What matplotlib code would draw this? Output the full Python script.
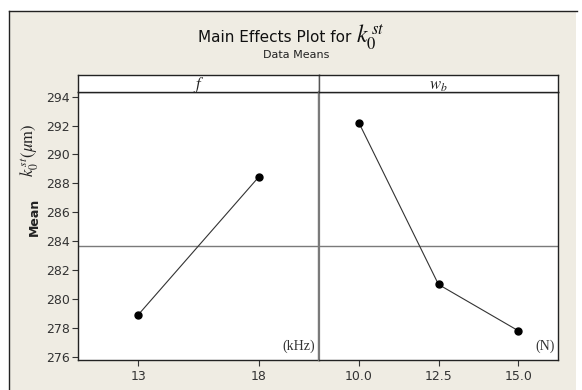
import matplotlib
matplotlib.use("Agg")
import matplotlib.pyplot as plt
from matplotlib.patches import Rectangle
from matplotlib.lines import Line2D

plt.rcParams["mathtext.fontset"] = "stix"
plt.rcParams["font.family"] = "DejaVu Sans"

# main effects: level means per factor
f_levels = ["13", "18"]
f_means = [278.9, 288.44]
wb_levels = ["10.0", "12.5", "15.0"]
wb_means = [292.2, 281.0, 277.8]
grand_mean = 283.67
y_ticks = [276, 278, 280, 282, 284, 286, 288, 290, 292, 294]

W, H = 582, 390
BG = "#efece3"

fig = plt.figure(figsize=(W / 100, H / 100), dpi=100)
fig.patch.set_facecolor("white")

# beige frame with darker top/left edge
fig.patches.append(Rectangle((9 / W, 0), (576 - 9) / W, 1 - 11 / H,
                             transform=fig.transFigure, facecolor=BG,
                             edgecolor="none", zorder=-5))
fig.lines.append(Line2D([9 / W, 9 / W], [0, 1 - 11 / H], transform=fig.transFigure,
                        color="#222222", lw=1.0, zorder=-4))
fig.lines.append(Line2D([9 / W, 577 / W], [1 - 11 / H, 1 - 11 / H],
                        transform=fig.transFigure, color="#222222", lw=1.0, zorder=-4))


def fx(px):
    return px / W


def fy(py):
    return 1 - py / H


left, mid, right = 78, 319, 558
top_strip, top_data, bottom = 75.3, 92.3, 360
ylim = (275.77, 294.30)

panels = [
    (left, mid, f_levels, f_means, "$f$", "(kHz)"),
    (mid, right, wb_levels, wb_means, "$w_b$", "(N)"),
]

for i, (x0, x1, levels, means, name, unit) in enumerate(panels):
    ax = fig.add_axes([fx(x0), fy(bottom), fx(x1) - fx(x0), fy(top_data) - fy(bottom)])
    ax.set_facecolor("white")
    pos = list(range(1, len(levels) + 1))
    ax.axhline(grand_mean, color="#7a7a7a", lw=1.0, zorder=1)
    ax.plot(pos, means, color="#333333", lw=0.8, marker="o", ms=5,
            markerfacecolor="black", markeredgecolor="black", zorder=3)
    ax.set_xlim(0.5, len(levels) + 0.5)
    ax.set_ylim(*ylim)
    ax.set_xticks(pos)
    ax.set_xticklabels(levels)
    ax.tick_params(axis="x", length=4, width=0.8, color="#333333", labelsize=9,
                   labelcolor="#333333", pad=3)
    for s in ax.spines.values():
        s.set_color("#222222")
        s.set_linewidth(1.0)
    if i == 0:
        ax.set_yticks(y_ticks)
        ax.tick_params(axis="y", length=4, width=0.8, color="#333333", labelsize=9,
                       labelcolor="#333333", pad=2)
        ax.spines["right"].set_color("#7a7a7a")
        ax.spines["right"].set_linewidth(1.6)
    else:
        ax.set_yticks([])
        ax.spines["left"].set_color("#7a7a7a")
        ax.spines["left"].set_linewidth(1.6)
    ax.text(0.985, 0.025, unit, transform=ax.transAxes, ha="right", va="bottom",
            fontsize=10, family="Liberation Serif", color="#333333")

    strip = fig.add_axes([fx(x0), fy(top_data), fx(x1) - fx(x0), fy(top_strip) - fy(top_data)])
    strip.set_facecolor("white")
    strip.set_xticks([])
    strip.set_yticks([])
    for s in strip.spines.values():
        s.set_color("#222222")
        s.set_linewidth(1.0)
    if i == 0:
        strip.spines["right"].set_color("#555555")
    else:
        strip.spines["left"].set_color("#555555")
    strip.text(0.5, 0.45, name, transform=strip.transAxes, ha="center", va="center",
               fontsize=12, color="#222222")

fig.text(fx(351), fy(38), "Main Effects Plot for", ha="right",
         va="center", fontsize=11, color="#111111")
fig.text(fx(356), fy(37), r"$k_{0}^{\,st}$", ha="left", va="center",
         fontsize=17, color="#111111")
fig.text(fx(296), fy(55), "Data Means", ha="center", va="center", fontsize=8,
         color="#222222")

fig.text(fx(34), fy(217), "Mean", rotation=90, ha="center", va="center",
         fontsize=9, fontweight="bold", color="#222222")
fig.text(fx(30), fy(150), r"$k_{0}^{\,st}(\mu\mathrm{m})$", rotation=90, ha="center",
         va="center", fontsize=12, color="#222222")

fig.savefig("out.png", dpi=100, facecolor=fig.get_facecolor())
